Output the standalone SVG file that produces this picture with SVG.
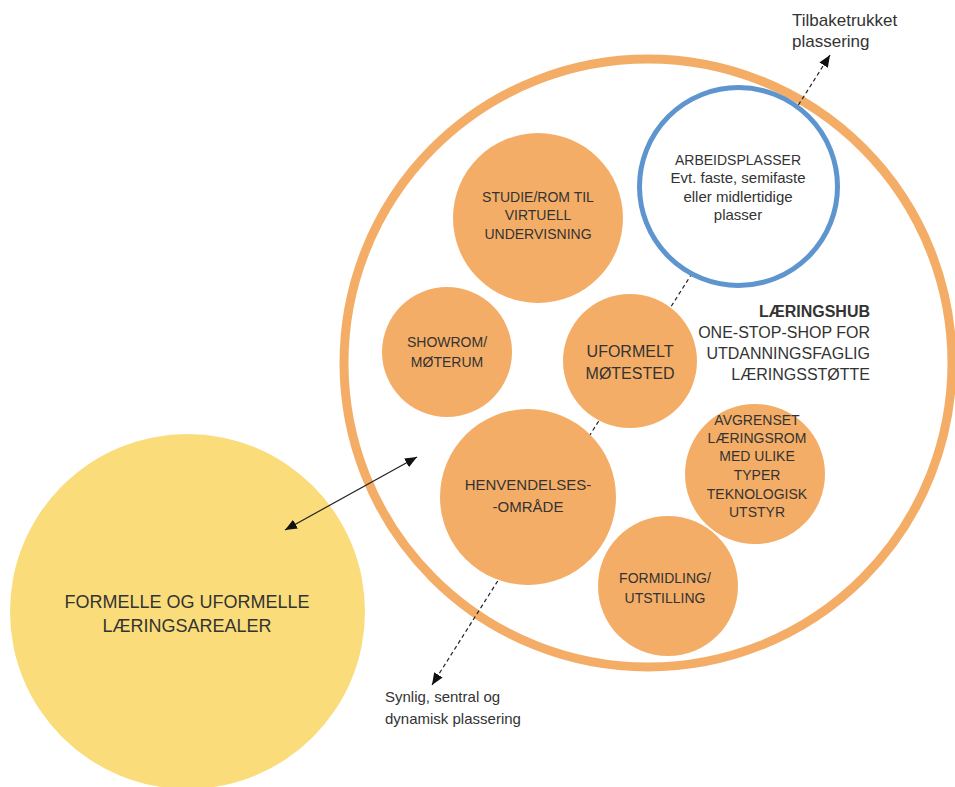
<svg xmlns="http://www.w3.org/2000/svg" width="955" height="787" viewBox="0 0 955 787">
<defs>
<marker id="ah" markerUnits="userSpaceOnUse" markerWidth="13" markerHeight="11" refX="12" refY="5" orient="auto-start-reverse">
<path d="M0,0 L12,5 L0,10 z" fill="#111"/>
</marker>
<style>
text{font-family:"Liberation Sans",Arial,sans-serif;text-anchor:middle;fill:#333}
.orange{fill:#F4AD66}
.c14{font-size:14px}
.c15{font-size:15px}
.c16{font-size:16px}
.lbl{text-anchor:start;fill:#333}
.hub{text-anchor:end;font-size:16px;fill:#333}
.conn{stroke:#222;stroke-width:1.2;fill:none}
</style>
</defs>
<rect width="955" height="787" fill="#fff"/>
<g id="laeringshub-ring">
<circle cx="648" cy="363" r="304" fill="none" stroke="#F4AD66" stroke-width="9"/>
<text class="hub" x="870" y="317" font-weight="bold" fill="#2a2a35">LÆRINGSHUB</text>
<text class="hub" x="870" y="338">ONE-STOP-SHOP FOR</text>
<text class="hub" x="870" y="359">UTDANNINGSFAGLIG</text>
<text class="hub" x="870" y="380">LÆRINGSSTØTTE</text>
</g>
<g id="formelle">
<circle cx="187.5" cy="611.5" r="177.5" fill="#FADD7A"/>
<text x="187" y="608" font-size="18" fill="#1a1a1a">FORMELLE OG UFORMELLE</text>
<text x="187" y="632" font-size="18" fill="#1a1a1a">LÆRINGSAREALER</text>
</g>
<g id="connectors">
<line class="conn" x1="285" y1="530" x2="417" y2="457" marker-start="url(#ah)" marker-end="url(#ah)"/>
<line class="conn" x1="432" y1="685" x2="830" y2="55" stroke-dasharray="4 3" marker-start="url(#ah)" marker-end="url(#ah)"/>
</g>
<g id="arbeidsplasser">
<circle cx="738.5" cy="186.5" r="99" fill="#fff" stroke="#5E95CF" stroke-width="5"/>
<text class="c14" x="738" y="165">ARBEIDSPLASSER</text>
<text class="c15" x="738" y="183">Evt. faste, semifaste</text>
<text class="c15" x="738" y="202">eller midlertidige</text>
<text class="c15" x="738" y="220">plasser</text>
</g>
<g id="studierom">
<circle class="orange" cx="538" cy="218" r="85"/>
<text class="c14" x="538" y="202">STUDIE/ROM TIL</text>
<text class="c14" x="538" y="220">VIRTUELL</text>
<text class="c14" x="538" y="239">UNDERVISNING</text>
</g>
<g id="showrom">
<circle class="orange" cx="447" cy="352" r="65"/>
<text class="c14" x="447" y="347">SHOWROM/</text>
<text class="c14" x="447" y="367">MØTERUM</text>
</g>
<g id="uformelt">
<circle class="orange" cx="630" cy="361" r="67"/>
<text class="c16" x="630" y="357">UFORMELT</text>
<text class="c16" x="630" y="379">MØTESTED</text>
</g>
<g id="henvendelse">
<circle class="orange" cx="528" cy="497" r="88"/>
<text class="c15" x="528" y="490">HENVENDELSES-</text>
<text class="c15" x="528" y="512">-OMRÅDE</text>
</g>
<g id="avgrenset">
<circle class="orange" cx="755" cy="474" r="70"/>
<text class="c14" x="757" y="425">AVGRENSET</text>
<text class="c14" x="757" y="443">LÆRINGSROM</text>
<text class="c14" x="757" y="461">MED ULIKE</text>
<text class="c14" x="757" y="480">TYPER</text>
<text class="c14" x="757" y="499">TEKNOLOGISK</text>
<text class="c14" x="757" y="517">UTSTYR</text>
</g>
<g id="formidling">
<circle class="orange" cx="668" cy="586" r="70"/>
<text class="c14" x="665" y="583">FORMIDLING/</text>
<text class="c14" x="665" y="603">UTSTILLING</text>
</g>
<g id="labels">
<text class="lbl" x="792" y="26" font-size="17">Tilbaketrukket</text>
<text class="lbl" x="792" y="47" font-size="17">plassering</text>
<text class="lbl" x="385" y="702" font-size="15">Synlig, sentral og</text>
<text class="lbl" x="385" y="724" font-size="15">dynamisk plassering</text>
</g>
</svg>
